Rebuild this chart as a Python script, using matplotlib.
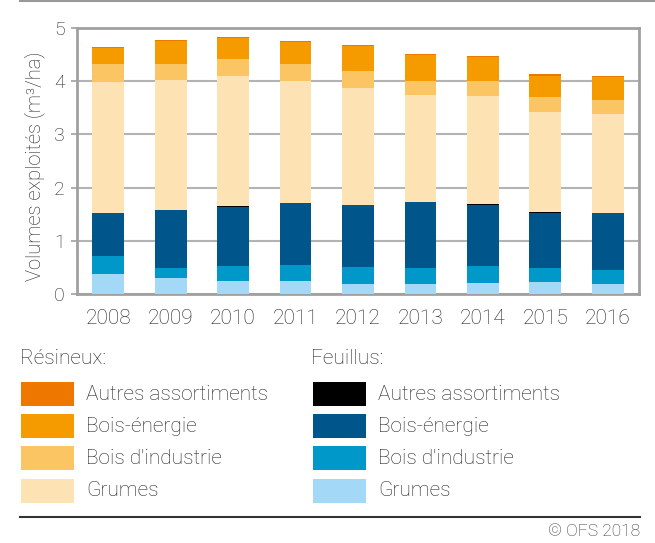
import numpy as np
import matplotlib
matplotlib.use("Agg")
import matplotlib.pyplot as plt
from matplotlib.patches import Rectangle
from matplotlib.lines import Line2D

plt.rcParams['font.family'] = ['Roboto', 'DejaVu Sans']
plt.rcParams['font.weight'] = 'light'
plt.rcParams['axes.labelweight'] = 'light'

years = ["2008", "2009", "2010", "2011", "2012", "2013", "2014", "2015", "2016"]

# Feuillus (bottom part of the stack)
feu_grumes = [0.38, 0.31, 0.25, 0.25, 0.19, 0.19, 0.21, 0.23, 0.19]
feu_industrie = [0.34, 0.18, 0.28, 0.30, 0.32, 0.30, 0.32, 0.26, 0.27]
feu_energie = [0.80, 1.09, 1.105, 1.16, 1.16, 1.24, 1.15, 1.03, 1.06]
feu_autres = [0.0, 0.0, 0.025, 0.0, 0.0, 0.0, 0.02, 0.02, 0.0]
# Résineux (top part)
res_grumes = [2.46, 2.45, 2.43, 2.29, 2.21, 2.02, 2.03, 1.89, 1.86]
res_industrie = [0.34, 0.30, 0.32, 0.32, 0.32, 0.26, 0.28, 0.27, 0.26]
res_energie = [0.30, 0.42, 0.40, 0.42, 0.46, 0.48, 0.44, 0.39, 0.43]
res_autres = [0.03, 0.03, 0.02, 0.02, 0.02, 0.03, 0.02, 0.04, 0.02]

labels = ["Autres assortiments", "Bois-énergie", "Bois d'industrie", "Grumes"]
res_colors = ["#ee7700", "#f59b00", "#fbc564", "#fde2b3"]
feu_colors = ["#000000", "#00568a", "#0097c9", "#a3d9f6"]

W, H = 655, 543
fig = plt.figure(figsize=(W / 100, H / 100), dpi=100)

def fx(px):
    return px / W

def fy(py):
    return 1 - py / H

ax = fig.add_axes([fx(77), fy(294), fx(639) - fx(77), fy(28) - fy(294)])

x = np.arange(len(years))
series = [
    (feu_grumes, feu_colors[3]),
    (feu_industrie, feu_colors[2]),
    (feu_energie, feu_colors[1]),
    (feu_autres, feu_colors[0]),
    (res_grumes, res_colors[3]),
    (res_industrie, res_colors[2]),
    (res_energie, res_colors[1]),
    (res_autres, res_colors[0]),
]
bottom = np.zeros(len(years))
for vals, col in series:
    ax.bar(x, vals, width=0.51, bottom=bottom, color=col, linewidth=0, zorder=3)
    bottom += np.array(vals)

ax.set_xlim(-0.5, len(years) - 0.5)
ax.set_ylim(0, 5)
ax.set_yticks(range(6))
ax.set_xticks(x)
ax.set_xticklabels(years)
ax.yaxis.grid(True, color="#b3b3b3", linewidth=1.5, zorder=0)
ax.set_axisbelow(True)
for s in ax.spines.values():
    s.set_color("#a0a0a0")
    s.set_linewidth(2)
ax.tick_params(axis="y", length=4, width=1.2, color="#a0a0a0", labelsize=14,
               labelcolor="#222222", pad=5)
ax.tick_params(axis="x", length=0, labelsize=15, labelcolor="#222222", pad=11)
ax.set_ylabel("Volumes exploités (m³/ha)", fontsize=14.5, color="#222222")
ax.yaxis.set_label_coords(-0.057, 0.481)

# top rule
fig.add_artist(Line2D([fx(20), 1], [fy(1), fy(1)], color="#999999", linewidth=1.5))

# legend
fig.text(fx(20), fy(358), "Résineux:", fontsize=15, color="#222222", va="center")
fig.text(fx(311), fy(358), "Feuillus:", fontsize=15, color="#222222", va="center")
row_tops = [382, 414, 446, 479]
for i, lab in enumerate(labels):
    t = row_tops[i]
    for px0, col in ((21, res_colors[i]), (313, feu_colors[i])):
        fig.add_artist(Rectangle((fx(px0), fy(t + 24)), fx(53), 24 / H,
                                 facecolor=col, edgecolor="none"))
        fig.text(fx(px0 + 65), fy(t + 12), lab, fontsize=15, color="#222222",
                 va="center")

fig.add_artist(Line2D([fx(20), fx(640)], [fy(517), fy(517)], color="#333333",
                      linewidth=1.5))
fig.text(fx(640), fy(532), "© OFS 2018", fontsize=12.5, color="#333333",
         ha="right", va="center")

fig.savefig("out.png", dpi=100)
